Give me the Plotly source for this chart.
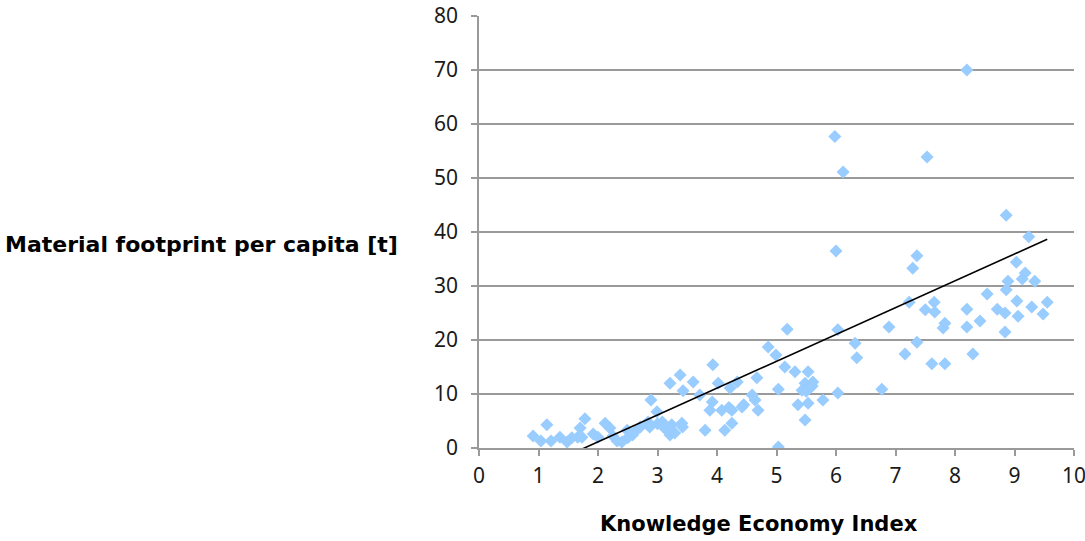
import numpy as np
import plotly.graph_objects as go

# Knowledge Economy Index (x) and material footprint per capita in tonnes (y)
kei = [
    0.91, 1.04, 1.14, 1.21, 1.36, 1.48, 1.56, 1.66, 1.70, 1.78, 1.73, 2.00, 2.12, 2.20,
    2.25, 2.32, 2.40, 2.49, 2.50, 2.62, 2.71, 2.84, 2.87, 2.89, 2.99, 3.08, 3.16, 3.24,
    3.21, 3.41, 3.21, 3.38, 3.60, 3.43, 3.80, 3.93, 3.92, 3.88, 4.02, 4.08, 4.13, 4.22,
    4.25, 4.25, 4.34, 4.42, 4.59, 4.64, 4.67, 4.69, 3.71, 4.86, 4.99, 5.14, 5.03, 5.18,
    5.03, 5.31, 5.53, 5.43, 5.48, 5.56, 5.61, 5.36, 5.53, 5.48, 5.78, 6.03, 6.03, 6.32,
    6.35, 5.98, 6.00, 6.12, 6.77, 6.89, 7.16, 7.23, 7.29, 7.36, 7.36, 7.50, 7.53, 7.65,
    7.66, 7.61, 7.83, 7.80, 7.83, 8.20, 8.20, 8.20, 8.30, 8.42, 8.54, 8.71, 8.84, 8.84,
    8.86, 8.89, 8.86, 9.03, 9.04, 9.06, 9.13, 9.18, 9.24, 9.29, 9.34, 9.48, 9.55,
    3.00, 3.10, 3.29, 3.42, 4.20, 4.45, 5.50, 5.60, 1.92, 2.58,
]
footprint = [
    2.2, 1.3, 4.3, 1.3, 2.0, 1.1, 1.9, 2.0, 3.7, 5.4, 2.0, 2.0, 4.6, 3.7,
    2.2, 1.3, 1.1, 3.3, 1.9, 3.0, 3.9, 4.8, 3.9, 8.9, 6.7, 4.8, 3.3, 4.3,
    2.4, 4.6, 12.0, 13.5, 12.2, 10.6, 3.3, 15.4, 8.5, 7.0, 12.0, 7.0, 3.3, 11.1,
    4.6, 7.0, 12.2, 7.6, 9.8, 8.9, 13.0, 7.0, 9.8, 18.7, 17.2, 15.0, 10.9, 22.0,
    0.2, 14.1, 14.1, 10.7, 12.0, 11.1, 12.2, 8.0, 8.3, 5.2, 8.9, 10.2, 21.9, 19.4,
    16.7, 57.7, 36.5, 51.1, 10.9, 22.4, 17.4, 27.0, 33.3, 35.6, 19.6, 25.6, 53.9, 27.0,
    25.2, 15.6, 23.1, 22.2, 15.6, 25.7, 22.4, 70.0, 17.4, 23.5, 28.5, 25.7, 25.0, 21.5,
    29.3, 30.9, 43.1, 34.4, 27.2, 24.4, 31.3, 32.4, 39.1, 26.1, 30.9, 24.8, 27.0,
    4.5, 3.9, 2.8, 3.9, 7.5, 8.0, 10.5, 11.5, 2.6, 2.4,
]

# Linear trendline coefficients
trend_slope = 4.97
trend_intercept = -8.8

x_ticks = list(range(0, 11))
y_ticks = list(range(0, 81, 10))

trend_x = np.array([min(kei), max(kei)])
trend_y = trend_slope * trend_x + trend_intercept

GRID = "#9a9a9a"
FONT = "Noto Sans, Open Sans, Arial, sans-serif"
TITLE_FONT = "DejaVu Sans, Arial, sans-serif"

fig = go.Figure()
fig.add_trace(go.Scatter(
    x=kei, y=footprint, mode="markers",
    marker=dict(symbol="diamond", size=10, color="#99CCFF", line=dict(width=0)),
    showlegend=False, hoverinfo="x+y",
))
fig.add_trace(go.Scatter(
    x=trend_x, y=trend_y, mode="lines",
    line=dict(color="black", width=1.6), showlegend=False, hoverinfo="skip",
))

fig.update_layout(
    width=1085, height=541,
    margin=dict(l=479, r=11, t=16, b=93),
    paper_bgcolor="white", plot_bgcolor="white",
    font=dict(family=FONT, size=21, color="#1a1a1a"),
    xaxis=dict(
        range=[0, 10], tickvals=x_ticks, showgrid=False, zeroline=False,
        showline=True, linecolor=GRID, linewidth=1.5, automargin=False,
        ticks="outside", ticklen=6, tickcolor=GRID, tickwidth=1.5,
        ticklabeloverflow="allow", ticklabelstandoff=2,
    ),
    yaxis=dict(
        range=[0, 80], tickvals=y_ticks, showgrid=True, gridcolor=GRID, gridwidth=1.5,
        zeroline=False, showline=True, linecolor=GRID, linewidth=1.5, automargin=False,
        ticks="outside", ticklen=6, tickcolor=GRID, tickwidth=1.5,
        ticklabeloverflow="allow", ticklabelstandoff=9,
    ),
    annotations=[
        dict(
            text="<b>Material footprint per capita [t]</b>",
            xref="paper", yref="paper", x=-0.133, y=0.47,
            xanchor="right", yanchor="middle", showarrow=False,
            font=dict(size=22, color="black", family=TITLE_FONT),
        ),
        dict(
            text="<b>Knowledge Economy Index</b>",
            xref="paper", yref="paper", x=0.47, y=-0.176,
            xanchor="center", yanchor="middle", showarrow=False,
            font=dict(size=21, color="black", family=TITLE_FONT),
        ),
    ],
)

fig.write_html("out.html", config={"displayModeBar": False},
               post_script="document.body.style.margin='0';")
